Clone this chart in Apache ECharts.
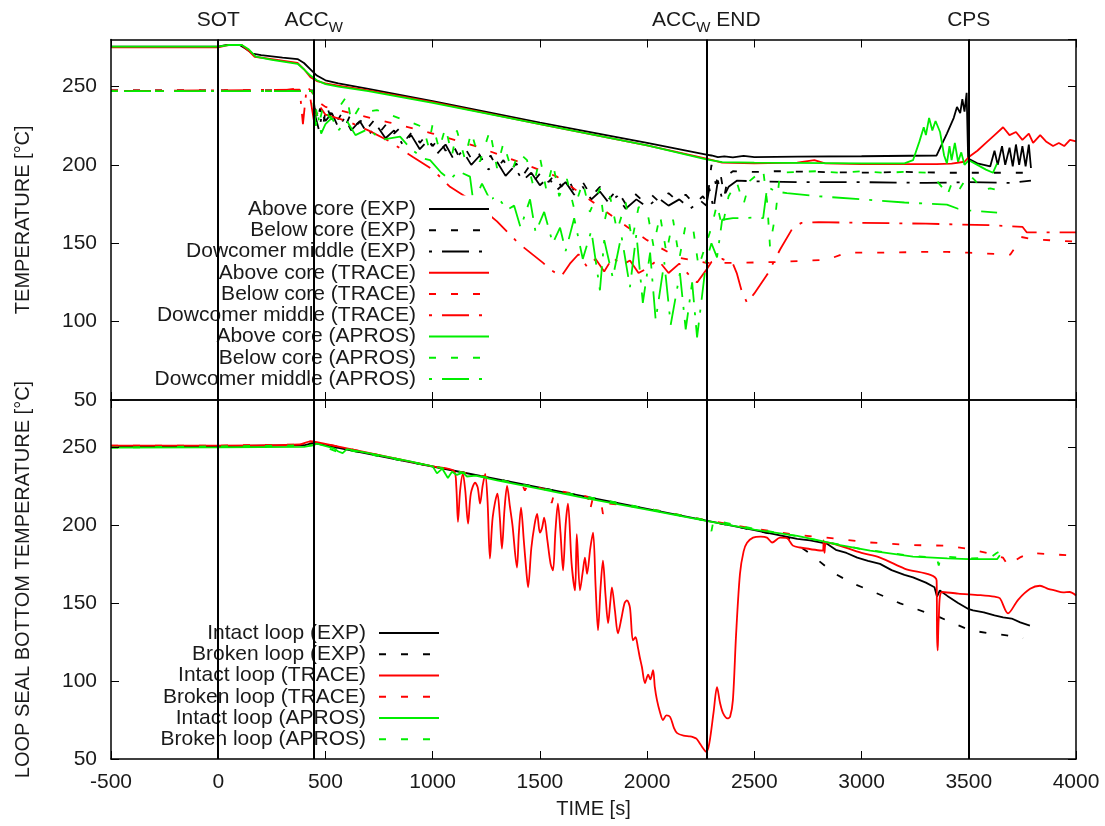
<!DOCTYPE html>
<html>
<head>
<meta charset="utf-8">
<script src="https://cdn.jsdelivr.net/npm/echarts@6/dist/echarts.min.js"></script>
<style>
  html, body { margin: 0; padding: 0; background: #fff; }
  #chart { width: 1105px; height: 826px; }
</style>
</head>
<body>
<div id="chart"></div>
<script>
// event markers (time in s)
const eventTimes = [0, 445, 2276, 3500];
const eventNames = ['SOT', 'ACCW', 'ACCW END', 'CPS'];

// ---- upper panel: core / downcomer temperatures [°C] vs time [s]
const aboveExp = [[-500,275.5],[0,275.5],[40,276.5],[100,276.5],[130,274],[160,271],[200,270],[300,268.5],[370,267.5],[400,265],[430,261],[460,257],[500,254],[560,252],[700,248.5],[1000,240.7],[1500,227],[2000,214],[2276,206.5],[2300,206],[2330,205],[2360,205.5],[2400,204.8],[2450,205.8],[2500,205],[2700,205.3],[3000,205.5],[3350,206],[3398,220],[3430,230],[3445,237],[3460,233],[3470,242],[3480,234],[3490,246],[3497,204],[3540,201],[3600,199],[3620,209],[3635,200],[3655,212],[3670,200],[3690,211],[3705,199],[3720,213],[3735,200],[3750,212],[3765,199],[3780,213],[3790,198]];
const belowExp = [[-500,247.5],[440,247.5],[450,238],[460,228],[475,236],[490,226],[505,238],[520,232],[540,236],[560,229],[580,234],[600,227],[620,233],[650,226],[680,230],[700,224],[730,229],[760,222],[790,227],[820,220],[850,224],[880,217],[910,222],[940,214],[970,219],[1000,212],[1030,217],[1060,209],[1090,214],[1120,206],[1150,211],[1180,204],[1210,209],[1240,200],[1270,206],[1300,198],[1330,203],[1360,196],[1390,201],[1420,193],[1450,199],[1480,191],[1510,196],[1540,189],[1570,194],[1600,186],[1630,192],[1660,183],[1700,189],[1740,180],[1780,186],[1820,178],[1860,184],[1900,175],[1940,182],[1980,177],[2020,181],[2060,176],[2100,182],[2140,177],[2180,181],[2220,175],[2260,180],[2280,176],[2300,200],[2320,188],[2340,196],[2360,180],[2380,194],[2400,196],[2500,195.5],[2600,196],[2800,195.5],[3000,195],[3200,195.5],[3400,195],[3600,195],[3790,195]];
const dwcExp = [[-500,247],[440,247],[455,230],[470,222],[485,233],[500,228],[530,233],[560,224],[590,230],[620,222],[660,228],[700,219],[740,225],[780,217],[820,222],[860,213],[900,219],[940,210],[980,216],[1020,207],[1060,213],[1100,203],[1140,209],[1180,200],[1220,206],[1260,197],[1300,202],[1340,193],[1380,199],[1420,190],[1460,195],[1500,187],[1540,192],[1580,184],[1620,189],[1660,181],[1700,186],[1740,178],[1780,183],[1820,176],[1860,180],[1900,172],[1950,178],[2000,173],[2050,179],[2100,174],[2150,178],[2200,172],[2250,177],[2276,174],[2290,185],[2310,172],[2330,190],[2350,178],[2380,186],[2420,190],[2500,189.5],[2700,189],[3000,189],[3300,188.5],[3500,189],[3700,188.5],[3790,190]];
const aboveTrace = [[-500,275],[0,275],[50,276.5],[110,276.5],[140,273],[170,269],[250,267.5],[370,265],[400,261],[430,256],[460,253.5],[500,252],[560,250.5],[700,247.5],[1000,240],[1500,226],[2000,212.5],[2276,204],[2350,201.5],[2500,201],[2700,201.5],[2780,203],[2830,201],[3000,200.5],[3350,200.5],[3420,200.8],[3480,202],[3500,205],[3540,209],[3580,214],[3620,219],[3660,224],[3690,219],[3720,221],[3750,216],[3780,220],[3800,214],[3833,219],[3860,215],[3893,212],[3920,214],[3945,212],[3972,216],[4000,215]];
const belowTrace = [[-500,247.5],[300,247.5],[380,249],[420,249],[440,246],[450,232],[470,240],[500,237],[650,232],[800,227],[1000,220],[1200,212],[1400,202],[1580,192.5],[1750,176],[1906,160.5],[2000,152],[2140,141],[2276,137.5],[2400,137.5],[2600,138],[2840,139.5],[2930,144],[3100,144],[3300,144.5],[3400,144.5],[3500,144],[3693,142.7],[3720,148],[3745,154],[3800,152.5],[4000,151]];
const dwcTrace = [[-500,247],[380,248],[395,226],[410,246],[430,242],[450,225],[470,238],[500,232],[600,228],[700,222],[800,215],[908,205],[1000,197],[1081,186],[1150,180],[1221,173],[1300,164],[1400,150],[1515,137.5],[1550,133],[1600,129],[1640,137],[1680,143],[1720,135],[1760,140],[1800,132],[1840,141],[1880,136],[1920,139],[1960,131],[2000,134],[2050,139.5],[2100,131],[2150,137],[2200,129],[2233,125],[2276,133],[2300,138],[2350,140],[2400,137],[2418,131],[2440,120],[2466,112],[2500,118],[2560,130],[2620,146],[2680,160],[2720,163],[2800,163.5],[3000,163],[3300,162.5],[3600,161.5],[3750,160.5],[3770,157],[3900,157],[4000,157]];
const aboveApros = [[-500,275.5],[0,275.5],[50,276.5],[110,276.5],[140,274],[175,269],[250,267],[370,264.5],[400,261],[430,257],[460,254],[500,251.5],[560,250],[700,247],[1000,239.5],[1500,226],[2000,212.5],[2276,203.5],[2350,201.8],[2500,201.5],[3000,201],[3200,201],[3240,203],[3270,215],[3290,224],[3300,219],[3315,230],[3330,222],[3345,228],[3366,221],[3385,206],[3398,201],[3410,212],[3420,203],[3435,214],[3450,202],[3465,208],[3480,200],[3500,203],[3540,200],[3580,197],[3613,195],[3632,201]];
const belowApros = [[-500,247],[440,247],[450,240],[470,226],[490,238],[520,230],[560,236],[600,244],[620,228],[660,237],[700,234],[740,235],[800,232],[860,229],[920,226],[956,224],[980,212],[1000,226],[1030,210],[1060,224],[1090,206],[1113,222],[1150,204],[1180,221],[1220,202],[1267,222],[1300,198],[1330,214],[1370,196],[1400,208],[1440,203],[1470,186],[1500,205],[1530,184],[1561,201],[1590,180],[1626,191],[1660,172],[1700,189],[1733,170],[1780,185],[1800,163],[1827,180],[1860,158],[1900,176],[1930,152],[1960,173],[2000,171],[2030,148],[2060,168],[2090,144],[2121,165],[2150,140],[2180,162],[2214,160],[2240,135],[2276,150],[2300,160],[2326,175],[2350,160],[2380,180],[2418,189],[2450,175],[2480,190],[2541,197],[2560,176],[2573,148],[2600,170],[2620,195],[2700,195.5],[2800,196],[2900,195],[3000,196],[3100,195],[3200,195.5],[3300,195],[3350,190],[3380,185],[3398,180],[3420,188],[3450,183],[3500,194],[3530,190],[3560,184],[3600,185],[3632,184]];
const dwcApros = [[-500,247],[440,247],[445,238],[455,225],[465,232],[480,220],[500,226],[530,230],[560,222],[600,228],[640,219],[700,223],[760,216],[848,218],[900,210],[960,204],[988,203],[1040,195],[1081,190.6],[1120,196],[1174,192.5],[1190,176],[1230,188],[1267,177.8],[1300,180],[1347,171.4],[1380,174],[1410,160],[1454,178],[1480,157],[1520,170],[1560,150],[1594,160],[1620,145],[1660,166],[1700,140],[1740,158],[1780,120],[1800,152],[1840,128],[1880,155],[1920,122],[1950,156],[1980,112],[2014,144],[2040,101],[2080,138],[2110,98],[2153,131],[2180,95],[2210,125],[2233,90],[2276,139],[2300,150],[2326,141],[2350,165],[2400,166],[2447,166],[2500,166.5],[2541,166],[2560,186],[2600,183],[2652,182],[2800,180],[3000,178],[3200,176],[3398,174.6],[3450,172],[3500,171],[3632,169.5]];

// ---- lower panel: loop seal bottom temperatures [°C] vs time [s]
const intactExp = [[-500,250.5],[0,250.5],[400,251],[445,252.5],[460,252],[1000,237.4],[1500,223.8],[2000,210.2],[2276,202.7],[2500,196.6],[2700,191],[2760,190],[2837,188],[2880,184],[2930,182],[2980,179],[3030,177],[3086,175],[3140,171],[3200,168],[3240,166.4],[3300,163],[3340,160],[3352,154],[3365,158],[3400,154.5],[3450,150],[3500,146],[3520,145.2],[3570,144],[3620,142],[3660,140.7],[3700,140],[3740,137.5],[3785,135.5]];
const brokenExp = [[-500,250.5],[0,250.5],[400,251],[445,252.5],[460,252],[1000,237.4],[1500,223.8],[2000,210.2],[2276,202.7],[2500,196.6],[2652,192],[2760,181.6],[2867,169.5],[2950,163],[3040,158],[3180,149.7],[3366,140.7],[3506,132.4],[3600,130.5],[3677,129.2],[3753,127.3]];
const intactTrace = [[-500,250.8],[0,250.8],[380,251.5],[430,253.5],[460,253],[1000,237.5],[1100,234.5],[1110,225],[1118,202],[1128,222],[1141,232.7],[1152,222],[1165,200.8],[1178,220],[1198,227],[1210,224],[1221,213.6],[1233,225],[1245,232.7],[1256,215],[1267,178.4],[1280,205],[1302,220],[1313,205],[1323,184.8],[1335,210],[1347,225],[1360,212],[1372,200],[1393,172.7],[1402,195],[1412,211],[1425,190],[1437,170],[1445,160],[1460,185],[1475,200],[1487,207],[1500,195],[1510,198],[1520,204.6],[1535,190],[1550,175],[1561,170.8],[1572,195],[1584,213.6],[1596,195],[1608,170.8],[1620,200],[1631,213.6],[1648,175],[1664,158],[1672,194],[1687,158],[1700,170],[1710,179],[1720,168.6],[1735,185],[1748,195],[1760,160],[1771,132.4],[1783,160],[1794,177],[1806,155],[1818,137],[1828,150],[1836,160],[1850,145],[1864,130.5],[1880,140],[1895,150],[1906,151.6],[1920,147],[1934,126],[1946,128],[1957,121.5],[1966,115],[1976,108.8],[1990,98.6],[2005,104],[2015,101],[2028,107],[2036,96],[2046,87.7],[2060,80],[2074,75],[2090,78],[2107,77],[2125,70],[2140,66.6],[2170,65],[2200,64.5],[2214,64],[2230,63],[2246,60],[2260,57],[2276,54.5],[2290,60],[2310,80],[2326,96],[2340,86],[2354,79.4],[2375,76],[2387,77],[2400,87.7],[2415,130],[2433,168.6],[2450,183],[2466,188.5],[2494,191.8],[2530,192.5],[2559,191.8],[2583,188.7],[2620,191.8],[2652,191.5],[2680,186.7],[2713,185.5],[2820,183.5],[2823,190],[2827,182],[2837,188.7],[3000,182],[3086,179],[3200,172],[3350,164.4],[3352,130],[3355,119.6],[3360,140],[3375,157],[3450,156],[3550,155],[3620,154],[3645,153],[3683,143.3],[3730,152],[3786,159],[3832,161],[3870,159],[3900,158],[3940,156.7],[3970,157],[4000,154.8]];
const brokenTrace = [[-500,250.8],[0,250.8],[380,251.5],[430,253.5],[460,253],[1000,237.5],[1300,229.3],[1420,225],[1430,222],[1445,226],[1540,222],[1555,214],[1570,222],[1600,221.5],[1725,218],[1733,209],[1745,216],[1785,215],[1794,207],[1805,214],[2000,210.5],[2276,203],[2500,197.5],[2700,193.5],[2837,191.8],[3040,188.7],[3240,187],[3398,186.7],[3490,184.8],[3585,182],[3660,179],[3683,174],[3737,179],[3786,182],[3900,181],[4000,180.3]];
const intactApros = [[-500,249.5],[0,249.6],[400,250],[440,251],[460,252],[540,249],[560,247],[580,246],[600,248.5],[700,246],[900,240.5],[1000,237.5],[1020,233],[1045,236],[1071,230],[1090,234],[1113,232],[1140,233.5],[1160,231],[1200,231.5],[1300,228.5],[1500,223],[1700,217.5],[2000,209.8],[2276,202.5],[2500,197],[2700,193],[2800,190],[2900,187],[3040,183.5],[3240,179.7],[3400,178.5],[3500,178],[3632,178],[3645,180.5]];
const brokenApros = [[-500,249.5],[440,251],[460,252],[560,246.5],[600,248],[1000,237.5],[1500,223.5],[1700,218.5],[2000,210.5],[2276,203],[2300,196],[2310,203],[2500,197.5],[2700,192.8],[2800,190],[3000,184.5],[3240,180],[3350,179],[3360,174],[3370,180],[3500,178.5],[3600,179],[3630,182],[3645,183]];

const topNames = ['Above core (EXP)', 'Below core (EXP)', 'Dowcomer middle (EXP)',
  'Above core (TRACE)', 'Below core (TRACE)', 'Dowcomer middle (TRACE)',
  'Above core (APROS)', 'Below core (APROS)', 'Dowcomer middle (APROS)'];
const bottomNames = ['Intact loop (EXP)', 'Broken loop (EXP)', 'Intact loop (TRACE)',
  'Broken loop (TRACE)', 'Intact loop (APROS)', 'Broken loop (APROS)'];

const FONT = 'Liberation Sans';
const TXT = '#1a1a1a';
const DASH = [7, 15];
const DASHDOT = [3, 10, 27, 10];

function line(name, data, color, dash, panel, smooth) {
  return {
    name: name,
    type: 'line',
    data: data,
    xAxisIndex: panel === 0 ? 0 : 2,
    yAxisIndex: panel === 0 ? 0 : 2,
    showSymbol: false,
    symbol: 'none',
    smooth: smooth || false,
    animation: false,
    lineStyle: { color: color, width: 1.8, type: dash || 'solid' },
    itemStyle: { color: color }
  };
}

function events(panel) {
  return {
    silent: true,
    symbol: 'none',
    animation: false,
    lineStyle: { color: '#000', width: 2, type: 'solid' },
    label: {
      show: panel === 0,
      position: 'end',
      distance: 4,
      color: TXT,
      fontFamily: FONT,
      formatter: function (p) {
        if (p.name.indexOf('ACCW') === 0) {
          return '{m|ACC}{s|W}' + (p.name.length > 4 ? '{m| END}' : '');
        }
        return '{m|' + p.name + '}';
      },
      rich: {
        m: { fontSize: 21, fontFamily: FONT, color: TXT, verticalAlign: 'bottom', padding: [0, 0, 5, 0] },
        s: { fontSize: 15, fontFamily: FONT, color: TXT, verticalAlign: 'bottom' }
      }
    },
    data: eventTimes.map(function (t, i) { return { xAxis: t, name: eventNames[i] }; })
  };
}

const tick = { show: true, inside: true, length: 8, lineStyle: { color: '#000', width: 1 } };
const frame = { show: true, onZero: false, lineStyle: { color: '#000', width: 1.5 } };
const lbl = { fontSize: 21, fontFamily: FONT, color: TXT };

function xAx(grid, pos, labels) {
  return {
    type: 'value', gridIndex: grid, position: pos, min: -500, max: 4000, interval: 500, z: 5,
    axisLine: frame, axisTick: tick, splitLine: { show: false },
    axisLabel: Object.assign({ show: labels, margin: 13, formatter: function (v) { return String(v); } }, lbl),
    name: labels ? 'TIME [s]' : '', nameLocation: 'middle', nameGap: 40,
    nameTextStyle: { fontSize: 20, fontFamily: FONT, color: TXT }
  };
}
function yAx(grid, pos, labels, name) {
  return {
    type: 'value', gridIndex: grid, position: pos, min: 50, max: 280, interval: 50, z: 5,
    axisLine: frame, axisTick: tick, splitLine: { show: false },
    axisLabel: Object.assign({ show: labels, margin: 14, showMaxLabel: false }, lbl),
    name: name || '', nameLocation: 'middle', nameGap: 78,
    nameTextStyle: { fontSize: 20, fontFamily: FONT, color: TXT }
  };
}

function legend(names, top, right, padBottom) {
  return {
    data: names,
    orient: 'vertical',
    align: 'right',
    top: top,
    right: right,
    itemWidth: 60,
    itemHeight: 12,
    itemGap: 0.25,
    selectedMode: false,
    backgroundColor: '#fff',
    padding: [3, 2, padBottom, 10],
    itemStyle: { color: 'rgba(0,0,0,0)', borderColor: 'rgba(0,0,0,0)', borderWidth: 0 },
    textStyle: { fontSize: 21, fontFamily: FONT, color: TXT, lineHeight: 21, padding: [0, 8, 0, 0] },
    z: 4
  };
}

const series = [
  line(topNames[0], aboveExp, '#000000', null, 0),
  line(topNames[1], belowExp, '#000000', DASH, 0),
  line(topNames[2], dwcExp, '#000000', DASHDOT, 0),
  line(topNames[3], aboveTrace, '#ff0000', null, 0),
  line(topNames[4], belowTrace, '#ff0000', DASH, 0),
  line(topNames[5], dwcTrace, '#ff0000', DASHDOT, 0),
  line(topNames[6], aboveApros, '#00ee00', null, 0),
  line(topNames[7], belowApros, '#00ee00', DASH, 0),
  line(topNames[8], dwcApros, '#00ee00', DASHDOT, 0),
  line(bottomNames[0], intactExp, '#000000', null, 1),
  line(bottomNames[1], brokenExp, '#000000', DASH, 1),
  line(bottomNames[2], intactTrace, '#ff0000', null, 1, 0.3),
  line(bottomNames[3], brokenTrace, '#ff0000', DASH, 1),
  line(bottomNames[4], intactApros, '#00ee00', null, 1),
  line(bottomNames[5], brokenApros, '#00ee00', DASH, 1)
];
series[0].markLine = events(0);
series[9].markLine = events(1);

const chart = echarts.init(document.getElementById('chart'), null, { renderer: 'canvas' });
chart.setOption({
  animation: false,
  backgroundColor: '#fff',
  textStyle: { fontFamily: FONT },
  grid: [
    { left: 111, right: 29, top: 39.5, height: 360.5 },
    { left: 111, right: 29, top: 400, height: 359 }
  ],
  xAxis: [xAx(0, 'bottom', false), xAx(0, 'top', false), xAx(1, 'bottom', true), xAx(1, 'top', false)],
  yAxis: [
    yAx(0, 'left', true, 'TEMPERATURE [°C]'), yAx(0, 'right', false),
    yAx(1, 'left', true, 'LOOP SEAL BOTTOM TEMPERATURE [°C]'), yAx(1, 'right', false)
  ],
  legend: [
    legend(topNames, 195.5, 1105 - 492, 1),
    legend(bottomNames, 619.5, 1105 - 442, 9)
  ],
  series: series
});
</script>
</body>
</html>
